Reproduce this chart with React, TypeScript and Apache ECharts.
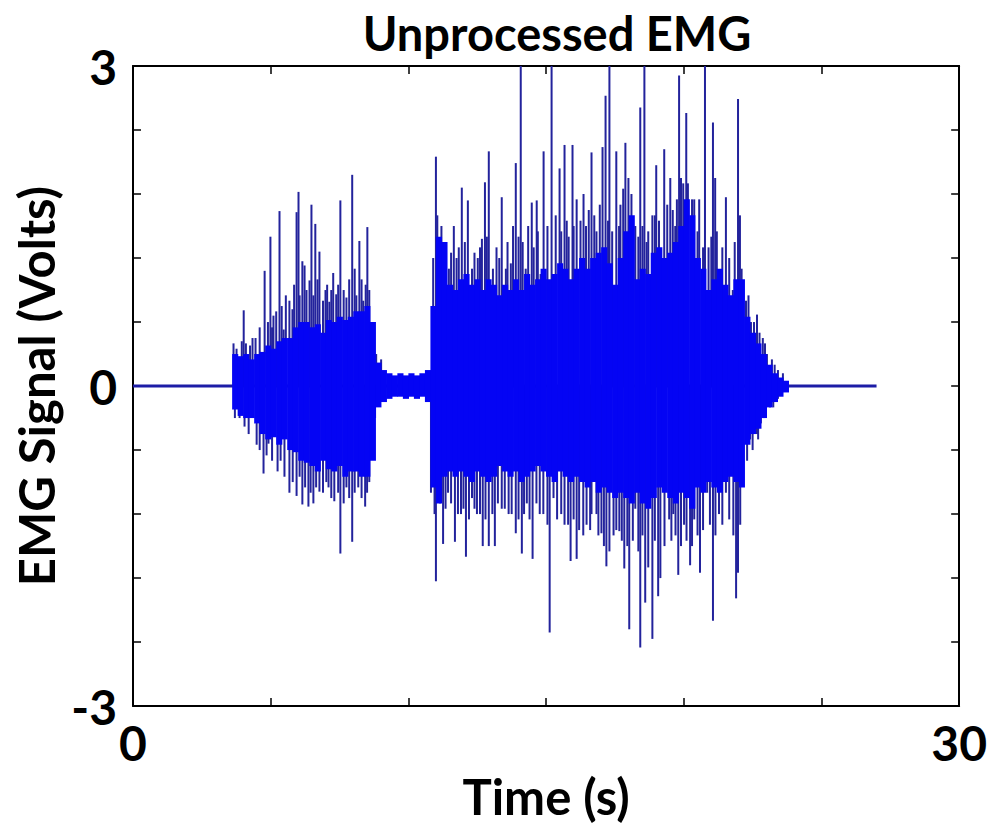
import React, { useEffect, useRef } from "react";
import * as echarts from "echarts";

// Flat baseline (no activity) spans the whole recording, 0 – 27 s
const baselineT = [0, 27.0];

// Solid body of the signal (envelope of the dense oscillation), sampled every 0.2 s from 3.6 s
const BODY_START = 3.6;
const BODY_STEP = 0.2;
// 3.6 … 8.6 s burst 1, 8.8 … 10.6 s quiet, 10.8 … 23.6 s burst 2
const bodyUpper = [
  0.3, 0.28, 0.3, 0.25, 0.3, 0.32, 0.38, 0.35, 0.42, 0.45,
  0.45, 0.55, 0.6, 0.6, 0.55, 0.58, 0.5, 0.62, 0.6, 0.65,
  0.62, 0.65, 0.7, 0.7, 0.75, 0.6,
  0.22, 0.15, 0.12, 0.1, 0.12, 0.1, 0.12, 0.1, 0.12, 0.15,
  0.75,
  1.4, 1.35, 0.95, 0.9, 1.0, 1.05, 0.95, 1.0, 0.9, 1.0,
  0.95, 0.85, 0.95, 0.9, 1.0, 0.9, 1.05, 0.95, 1.0, 1.1,
  1.0, 1.05, 1.15, 1.1, 1.0, 1.1, 1.2, 1.1, 1.2, 1.25,
  1.3, 1.15, 0.95, 1.2, 1.45, 1.6, 1.0, 1.1, 1.05, 1.25,
  1.3, 1.2, 1.25, 1.35, 1.5, 1.75, 1.6, 1.2, 1.1, 0.9,
  1.0, 1.1, 0.95, 0.85, 1.0, 1.0, 0.65, 0.5, 0.4, 0.3,
  0.2, 0.12, 0.08, 0.05,
];
const bodyLower = [
  -0.22, -0.28, -0.3, -0.3, -0.35, -0.45, -0.5, -0.48, -0.55, -0.5,
  -0.6, -0.62, -0.7, -0.72, -0.75, -0.8, -0.7, -0.78, -0.8, -0.75,
  -0.85, -0.8, -0.8, -0.85, -0.85, -0.7,
  -0.2, -0.15, -0.12, -0.1, -0.1, -0.12, -0.1, -0.12, -0.1, -0.15,
  -0.95,
  -1.1, -0.85, -0.8, -0.85, -0.8, -0.85, -0.9, -0.8, -0.85, -0.9,
  -0.85, -0.75, -0.8, -0.85, -0.8, -0.9, -0.85, -0.8, -0.75, -0.8,
  -0.85, -0.9, -0.8, -0.85, -0.9, -0.85, -0.9, -0.95, -0.9, -1.0,
  -0.95, -1.0, -1.05, -1.0, -1.05, -1.1, -1.0, -1.1, -1.15, -1.05,
  -0.95, -1.0, -1.05, -1.1, -1.0, -1.05, -1.15, -0.95, -1.0, -0.9,
  -0.95, -1.0, -0.9, -0.85, -0.9, -0.95, -0.55, -0.45, -0.4, -0.3,
  -0.2, -0.15, -0.1, -0.06,
];

// Large individual spikes (time s, amplitude V)
const spikeT = [
  // burst 1 positive
  3.76, 4.02, 4.34, 4.78, 4.99, 5.1, 5.32, 5.47, 5.68, 5.79, 5.94, 6.01, 6.15, 6.23, 6.41, 6.48,
  6.62, 6.77, 6.99, 7.13, 7.27, 7.38, 7.53, 7.75, 7.96, 8.11, 8.22, 8.36, 8.51, 8.65, 8.83, 9.01,
  // burst 1 negative
  3.87, 4.49, 4.74, 4.92, 5.36, 5.68, 5.94, 6.15, 6.37, 6.55, 6.77, 7.02, 7.31, 7.53, 7.75, 7.96,
  8.18, 8.43, 8.58, 8.79,
  // burst 2 positive
  11.0, 11.11, 11.36, 11.47, 11.65, 11.83, 11.94, 12.16, 12.31, 12.52, 12.67, 12.78, 12.92, 13.07,
  13.39, 13.54, 13.72, 13.9, 14.08, 14.26, 14.48, 14.66, 14.8, 14.91, 15.2, 15.49, 15.67, 15.82,
  15.96, 16.11, 16.25, 16.36, 16.65, 16.83, 17.05, 17.16, 17.3, 17.55, 17.7, 17.88, 17.99, 18.24,
  18.42, 18.57, 18.71, 18.86, 19.0, 19.15, 19.29, 19.51, 19.69, 19.83, 19.98, 20.09, 20.38, 20.56,
  20.77, 21.06, 21.14, 21.32, 21.53, 21.78, 21.97, 22.04, 22.26, 22.44, 22.66, 22.87, 23.02, 23.2,
  23.42, 23.6,
  // burst 2 negative
  10.82, 11.0, 11.26, 11.44, 11.69, 11.91, 12.09, 12.31, 12.49, 12.7, 12.92, 13.14, 13.39, 13.64,
  13.9, 14.12, 14.3, 14.51, 14.77, 15.13, 15.27, 15.67, 15.89, 16.11, 16.47, 16.65, 16.83, 17.01,
  17.19, 17.3, 17.66, 17.84, 18.02, 18.24, 18.42, 18.6, 18.71, 18.86, 19.07, 19.15, 19.47, 19.62,
  19.8, 20.01, 20.23, 20.38, 20.59, 20.85, 21.06, 21.28, 21.53, 21.9, 21.97, 22.15, 22.41, 22.66,
  22.8, 23.13, 23.42,
];
const spikeV = [
  0.35, 0.71, 0.45, 1.08, 1.4, 0.66, 1.64, 0.53, 0.8, 0.72, 1.63, 1.82, 1.17, 1.13, 0.99, 1.7,
  1.52, 1.26, 0.9, 0.79, 1.06, 0.86, 1.74, 0.83, 1.98, 0.85, 1.36, 0.8, 1.49, 0.54, 0.3, 0.25,
  -0.3, -0.55, -0.82, -0.54, -0.7, -1.0, -1.03, -1.11, -1.13, -1.1, -0.99, -0.9, -1.08, -1.57, -0.95, -1.46,
  -0.95, -1.13, -0.9, -0.3,
  2.15, 1.3, 1.2, 1.1, 1.5, 1.3, 1.86, 1.74, 1.1, 1.2, 1.38, 1.91, 2.2, 1.1,
  1.77, 1.1, 1.15, 2.09, 3.0, 1.1, 1.72, 1.74, 1.05, 2.2, 3.0, 2.04, 2.26, 1.4,
  2.26, 1.75, 1.55, 1.8, 2.19, 1.45, 2.24, 2.72, 3.0, 2.2, 1.7, 2.28, 1.95, 1.5,
  2.61, 3.0, 1.45, 1.6, 2.07, 1.2, 2.22, 1.95, 1.5, 2.91, 1.9, 2.56, 1.75, 1.75,
  3.0, 2.47, 1.95, 0.95, 1.77, 0.9, 2.69, 1.6, 0.8, 0.6, 0.67, 0.45, 0.3, 0.25,
  0.15, 0.12,
  -1.0, -1.83, -1.48, -1.0, -1.46, -1.2, -1.6, -1.05, -1.2, -1.5, -1.5, -1.5, -1.15, -1.2,
  -1.38, -1.57, -1.1, -1.62, -1.2, -2.31, -1.05, -1.3, -1.64, -1.62, -1.3, -1.2, -1.2, -1.38,
  -1.69, -1.55, -1.36, -1.71, -2.28, -1.15, -2.45, -2.03, -1.7, -2.37, -1.97, -1.8, -1.25, -1.2,
  -1.77, -1.3, -1.68, -1.25, -1.75, -1.0, -2.2, -1.2, -1.0, -1.99, -1.75, -0.58, -0.5, -0.45,
  -0.35, -0.2, -0.12,
];

// Smaller spikes fringing the body's edges (time s, amplitude V)
const minorT = [
  3.65, 3.95, 4.1, 4.25, 4.45, 4.6, 4.9, 5.05, 5.2, 5.4, 5.55, 5.85, 6.05, 6.3, 6.55, 6.7,
  6.9, 7.05, 7.2, 7.45, 7.65, 7.85, 8.05, 8.3, 8.45, 8.58,
  3.7, 4.05, 4.2, 4.6, 4.85, 5.05, 5.25, 5.5, 5.8, 6.05, 6.25, 6.45, 6.65, 6.9, 7.1, 7.2,
  7.45, 7.65, 7.85, 8.05, 8.3, 8.5,
  10.9, 11.05, 11.2, 11.55, 11.75, 12.05, 12.4, 12.6, 12.85, 13.2, 13.3, 13.6, 13.8, 14.0,
  14.15, 14.35, 14.55, 14.7, 15.05, 15.35, 15.55, 15.75, 16.0, 16.45, 16.55, 16.75, 16.95, 17.25,
  17.4, 17.65, 17.8, 18.1, 18.35, 18.5, 18.65, 18.95, 19.1, 19.4, 19.6, 19.75, 19.9, 20.15,
  20.3, 20.5, 20.7, 20.9, 21.0, 21.2, 21.4, 21.65, 21.85, 22.1, 22.35, 22.55, 22.75, 22.95, 23.3,
  10.95, 11.15, 11.35, 11.55, 11.8, 12.0, 12.2, 12.4, 12.6, 12.8, 13.05, 13.25, 13.5, 13.75,
  14.0, 14.2, 14.4, 14.65, 14.9, 15.05, 15.4, 15.55, 15.8, 16.0, 16.2, 16.35, 16.6, 16.9,
  17.1, 17.45, 17.55, 17.75, 17.95, 18.15, 18.35, 18.5, 18.95, 19.3, 19.55, 19.7, 19.9, 20.1,
  20.3, 20.5, 20.7, 20.95, 21.15, 21.4, 21.65, 21.8, 22.05, 22.3, 22.5, 22.7, 22.9, 23.25,
];
const minorV = [
  0.4, 0.42, 0.4, 0.38, 0.45, 0.55, 0.6, 0.55, 0.7, 0.75, 0.85, 0.95, 0.85, 0.9, 0.85, 1.0,
  0.8, 0.95, 0.9, 0.95, 0.9, 1.0, 1.1, 1.0, 0.95, 0.9,
  -0.3, -0.38, -0.45, -0.6, -0.65, -0.7, -0.8, -0.85, -0.9, -0.85, -0.95, -1.0, -0.95, -1.0, -0.95, -1.05,
  -1.0, -1.1, -1.05, -1.0, -1.05, -1.0,
  1.2, 1.6, 1.5, 1.25, 1.2, 1.35, 1.25, 1.3, 1.4, 1.3, 1.2, 1.35, 1.5, 1.4,
  1.35, 1.5, 1.3, 1.45, 1.5, 1.6, 1.45, 1.55, 1.5, 1.5, 1.65, 1.6, 1.7, 1.55,
  1.45, 1.5, 1.85, 1.8, 1.4, 1.5, 1.35, 1.6, 1.55, 1.7, 1.65, 1.75, 1.95, 1.9,
  1.75, 1.45, 1.3, 1.3, 1.4, 1.45, 1.3, 1.2, 1.35, 1.1, 0.85, 0.6, 0.5, 0.4, 0.2,
  -1.2, -1.1, -1.15, -1.1, -1.2, -1.15, -1.25, -1.15, -1.2, -1.25, -1.2, -1.1, -1.15, -1.2,
  -1.25, -1.2, -1.25, -1.1, -1.2, -1.3, -1.25, -1.2, -1.3, -1.25, -1.35, -1.4, -1.35, -1.4,
  -1.5, -1.4, -1.35, -1.45, -1.5, -1.45, -1.55, -1.4, -1.45, -1.5, -1.45, -1.4, -1.5, -1.45,
  -1.5, -1.4, -1.35, -1.3, -1.4, -1.3, -1.25, -1.4, -1.3, -0.7, -0.6, -0.5, -0.3, -0.2,
];

const X_MIN = 0, X_MAX = 30, X_INTERVAL = 5;
const Y_MIN = -3, Y_MAX = 3, Y_INTERVAL = 0.6;
const xLabelled = [0, 30];
const yLabelled = [-3, 0, 3];

const FONT = "Lato";

export default function App() {
  const ref = useRef<HTMLDivElement>(null);
  useEffect(() => {
    if (!ref.current) return;
    document.documentElement.style.overflow = "hidden";
    document.body.style.margin = "0";
    document.body.style.overflow = "hidden";
    const chart = echarts.init(ref.current, undefined, { renderer: "svg" });

    const bodyData = bodyUpper.map((hi, i) => [
      BODY_START + i * BODY_STEP,
      bodyLower[i],
      hi,
    ]);
    const spikeData = spikeT
      .map((t, i) => [t, spikeV[i]])
      .concat(minorT.map((t, i) => [t, minorV[i]]));

    const xFmt = (v: number) => {
      const m = xLabelled.find((l) => Math.abs(l - v) < 1e-6);
      return m === undefined ? "" : String(m);
    };
    const yFmt = (v: number) => {
      const m = yLabelled.find((l) => Math.abs(l - v) < 1e-6);
      return m === undefined ? "" : String(m);
    };
    const labelStyle = {
      fontSize: 48,
      fontWeight: "bold" as const,
      fontFamily: FONT,
      color: "#000",
    };
    const axisLine = { show: true, onZero: false, lineStyle: { color: "#000", width: 2 } };
    const axisTick = { show: true, inside: true, length: 8, lineStyle: { color: "#000", width: 1.5 } };

    chart.setOption({
      animation: false,
      backgroundColor: "#fff",
      grid: { left: 133, top: 66, right: 28, bottom: 109, containLabel: false },
      graphic: [
        {
          type: "text",
          x: 557,
          y: 33,
          style: {
            text: "Unprocessed EMG",
            font: `bold 47px ${FONT}`,
            fill: "#000",
            textAlign: "center",
            textVerticalAlign: "middle",
          },
        },
      ],
      xAxis: [
        {
          type: "value",
          position: "bottom",
          min: X_MIN,
          max: X_MAX,
          interval: X_INTERVAL,
          axisLine,
          axisTick,
          splitLine: { show: false },
          axisLabel: { ...labelStyle, formatter: xFmt, margin: 12, showMinLabel: true, showMaxLabel: true },
          name: "Time (s)",
          nameLocation: "middle",
          nameGap: 56,
          nameTextStyle: { ...labelStyle, fontSize: 49 },
        },
        {
          type: "value",
          position: "top",
          min: X_MIN,
          max: X_MAX,
          interval: X_INTERVAL,
          axisLine,
          axisTick,
          splitLine: { show: false },
          axisLabel: { show: false },
        },
      ],
      yAxis: [
        {
          type: "value",
          position: "left",
          min: Y_MIN,
          max: Y_MAX,
          interval: Y_INTERVAL,
          axisLine,
          axisTick,
          splitLine: { show: false },
          axisLabel: { ...labelStyle, formatter: yFmt, margin: 16, showMinLabel: true, showMaxLabel: true },
          name: "EMG Signal (Volts)",
          nameLocation: "middle",
          nameGap: 64,
          nameTextStyle: { ...labelStyle, fontSize: 49 },
        },
        {
          type: "value",
          position: "right",
          min: Y_MIN,
          max: Y_MAX,
          interval: Y_INTERVAL,
          axisLine,
          axisTick,
          splitLine: { show: false },
          axisLabel: { show: false },
        },
      ],
      series: [
        {
          type: "line",
          name: "baseline",
          xAxisIndex: 0,
          yAxisIndex: 0,
          data: [
            [baselineT[0], 0],
            [baselineT[1], 0],
          ],
          symbol: "none",
          lineStyle: { color: "#1c1ca6", width: 3 },
          z: 1,
        },
        {
          type: "custom",
          name: "spikes",
          xAxisIndex: 0,
          yAxisIndex: 0,
          clip: true,
          encode: { x: 0, y: 1 },
          data: spikeData,
          z: 2,
          renderItem: (params: any, api: any) => {
            const t = api.value(0);
            const v = api.value(1);
            const p0 = api.coord([t, 0]);
            const p1 = api.coord([t, v]);
            return {
              type: "line",
              shape: { x1: p0[0], y1: p0[1], x2: p1[0], y2: p1[1] },
              style: { stroke: "#23239c", lineWidth: 2 },
            };
          },
        },
        {
          type: "custom",
          name: "body",
          xAxisIndex: 0,
          yAxisIndex: 0,
          clip: true,
          encode: { x: 0, y: [1, 2] },
          data: bodyData,
          z: 3,
          renderItem: (params: any, api: any) => {
            const t = api.value(0);
            const lo = api.value(1);
            const hi = api.value(2);
            const a = api.coord([t, hi]);
            const b = api.coord([t + BODY_STEP, lo]);
            return {
              type: "rect",
              shape: { x: a[0], y: a[1], width: b[0] - a[0] + 0.6, height: b[1] - a[1] },
              style: { fill: "#0404f4" },
            };
          },
        },
      ],
    });
    return () => chart.dispose();
  }, []);
  return (
    <div
      ref={ref}
      style={{ position: "fixed", left: 0, top: 0, width: 990, height: 825 }}
    />
  );
}
